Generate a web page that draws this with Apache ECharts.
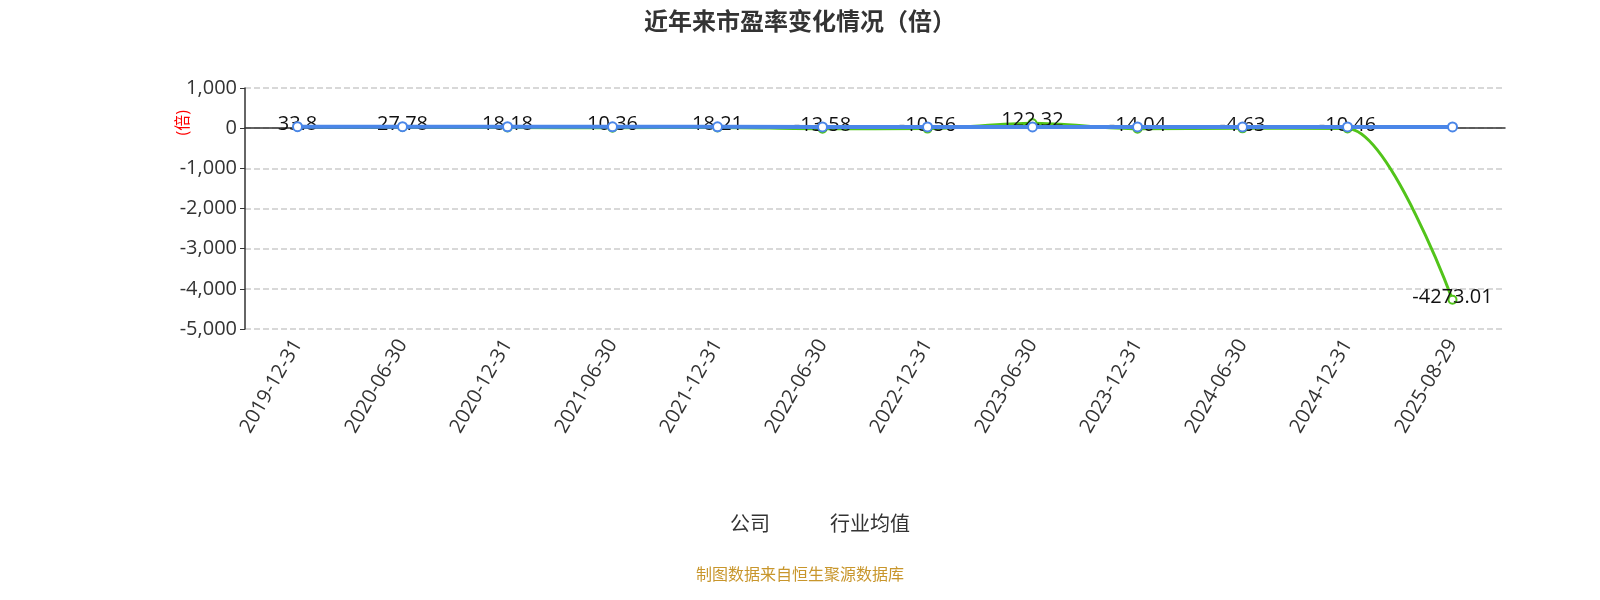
<!DOCTYPE html>
<html><head><meta charset="utf-8">
<script src="https://cdn.jsdelivr.net/npm/echarts@6/dist/echarts.min.js"></script>
<style>html,body{margin:0;padding:0;background:#fff}#c{width:1600px;height:600px}</style>
</head><body><div id="c"></div>
<script>
const categories=['2019-12-31','2020-06-30','2020-12-31','2021-06-30','2021-12-31','2022-06-30','2022-12-31','2023-06-30','2023-12-31','2024-06-30','2024-12-31','2025-08-29'];
const company=[33.8,27.78,18.18,10.36,18.21,-13.58,-10.56,122.32,-14.04,-4.63,-10.46,-4273.01];
const industry=[38,36,35,34,33,32,31,30,31,32,31,30];
const ff='"Open Sans","Noto Sans CJK SC",sans-serif';
const chart=echarts.init(document.getElementById('c'));
chart.setOption({
  animation:false,
  title:{text:'近年来市盈率变化情况（倍）',left:'center',top:6,textStyle:{fontSize:24,fontWeight:'bold',color:'#333',fontFamily:ff}},
  grid:{left:245,right:95,top:88,bottom:271,containLabel:false,outerBoundsMode:'none'},
  legend:{bottom:58,itemWidth:46,itemHeight:22,itemGap:20,textStyle:{fontSize:20,color:'#333',fontFamily:ff},
    data:[{name:'公司',icon:'emptyCircle'},{name:'行业均值',icon:'emptyCircle'}]},
  xAxis:{type:'category',data:categories,boundaryGap:true,
    axisLine:{onZero:true,lineStyle:{color:'#333',width:1.5}},axisTick:{lineStyle:{color:'#333'}},
    axisLabel:{rotate:60,fontSize:20,color:'#333',interval:0,margin:12,fontFamily:ff}},
  yAxis:{type:'value',min:-5000,max:1000,interval:1000,
    axisLine:{show:true,lineStyle:{color:'#333',width:1.5}},axisTick:{show:true},
    axisLabel:{fontSize:20,color:'#333',fontFamily:ff},
    splitLine:{lineStyle:{type:'dashed',color:'#ccc',width:1.5}}},
  graphic:[
    {type:'text',left:175,top:110,rotation:Math.PI/2,style:{text:'(倍)',fill:'red',fontSize:16,fontFamily:ff}},
    {type:'text',left:'center',top:567,style:{text:'制图数据来自恒生聚源数据库',fill:'#c8962c',fontSize:16,fontFamily:ff}}
  ],
  series:[
    {name:'公司',type:'line',smooth:0.3,data:company,symbol:'circle',symbolSize:8,
      itemStyle:{color:'#fff',borderColor:'#52c41a',borderWidth:2},lineStyle:{width:3,color:'#52c41a'},
      label:{show:true,position:'top',distance:-12,fontSize:20,color:'#111',fontFamily:ff},z:2},
    {name:'行业均值',type:'line',data:industry,symbol:'circle',symbolSize:9,
      itemStyle:{color:'#fff',borderColor:'#4a86e8',borderWidth:2},lineStyle:{width:4,color:'#4a86e8'},z:3}
  ]
});
</script></body></html>
